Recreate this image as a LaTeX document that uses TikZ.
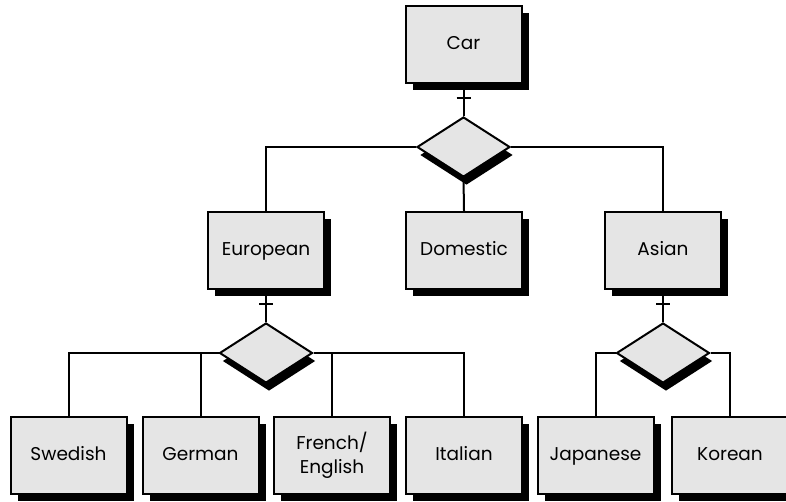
\documentclass[tikz,border=0pt]{standalone}
\usepackage{fontspec}
\setmainfont{Poppins}
\usetikzlibrary{shapes.geometric,shadows}
\definecolor{boxgray}{HTML}{E5E5E5}
\begin{document}
\begin{tikzpicture}[x=1pt,y=-1pt,
  ent/.style={draw=black, line width=2pt, fill=boxgray, minimum width=116pt, minimum height=77pt,
    inner sep=0pt, align=center, font=\fontsize{18.5}{24}\selectfont,
    text height=13pt, text depth=4pt,
    drop shadow={shadow xshift=7pt, shadow yshift=-7pt, fill=black, opacity=1}},
  ent2/.style={ent, text height=, text depth=},
  rel/.style={diamond, draw=black, line width=2pt, fill=boxgray, minimum width=93pt, minimum height=60pt,
    inner sep=0pt, drop shadow={shadow xshift=3pt, shadow yshift=-8pt, fill=black, opacity=1}},
  con/.style={line width=2pt},
  tick/.style={line width=1.5pt}]
\clip (0,0) rectangle (786,501);
\node[ent] (car) at (463.5,44.5) {Car};
\node[ent] (eu) at (266,250.5) {European};
\node[ent] (dom) at (464,250.5) {Domestic};
\node[ent] (as) at (663,250.5) {Asian};
\node[ent] (sw) at (68.5,455.5) {Swedish};
\node[ent] (ge) at (200.5,455.5) {German};
\node[ent2] (fr) at (332,455.5) {French/\\English};
\node[ent] (it) at (464,455.5) {Italian};
\node[ent] (ja) at (595.5,455.5) {Japanese};
\node[ent] (ko) at (730,455.5) {Korean};
\node[rel] (d1) at (463.5,147) {};
\node[rel] (d2) at (266,353) {};
\node[rel] (d3) at (663,353) {};
% connectors
\draw[con] (car.south) -- (d1.north);
\draw[con] (eu.north) |- (d1.west);
\draw[con] (as.north) |- (d1.east);
\draw[con] (d1.south) -- (dom.north);
\draw[con] (eu.south) -- (d2.north);
\draw[con] (as.south) -- (d3.north);
\draw[con] (sw.north) |- (d2.west);
\draw[con] (ge.north) |- (d2.west);
\draw[con] (fr.north) |- (d2.east);
\draw[con] (it.north) |- (d2.east);
\draw[con] (ja.north) |- (d3.west);
\draw[con] (ko.north) |- (d3.east);
% cross ticks
\path (car.south) ++(0,14) coordinate (t1);
\path (eu.south) ++(0,14) coordinate (t2);
\path (as.south) ++(0,14) coordinate (t3);
\foreach \t in {t1,t2,t3}{\draw[tick] ([xshift=-7pt]\t) -- ([xshift=7pt]\t);}
\end{tikzpicture}
\end{document}
